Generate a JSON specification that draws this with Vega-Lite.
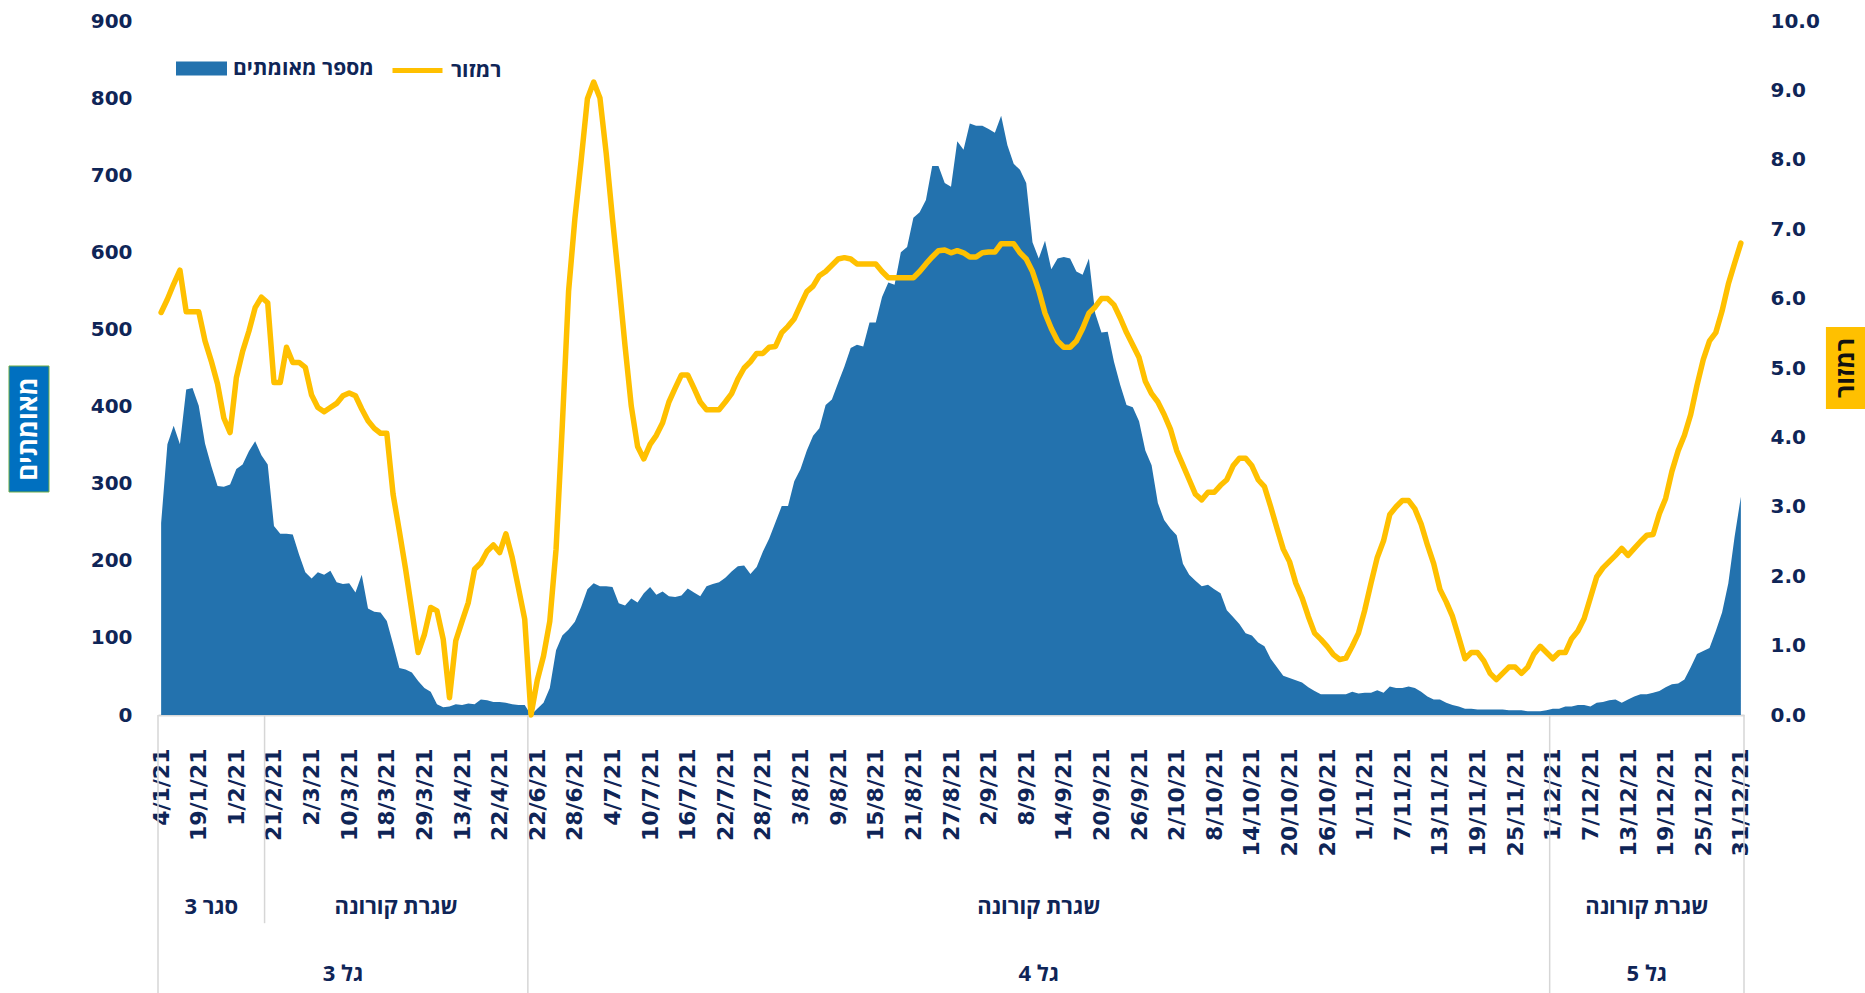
{
  "$schema": "https://vega.github.io/schema/vega-lite/v6.json",
  "width": 1586,
  "height": 694,
  "autosize": {"type": "none"},
  "padding": {"left": 158, "top": 21, "right": 121, "bottom": 278},
  "background": "white",
  "config": {"view": {"stroke": null}, "font": "Open Sans"},
  "datasets": {
    "series": [
      {"i":0,"c":249,"r":5.80},{"i":1,"c":351,"r":5.99},{"i":2,"c":375,"r":6.21},{"i":3,"c":351,"r":6.41},{"i":4,"c":422,"r":5.81},
      {"i":5,"c":424,"r":5.81},{"i":6,"c":401,"r":5.81},{"i":7,"c":352,"r":5.39},{"i":8,"c":323,"r":5.10},{"i":9,"c":297,"r":4.77},
      {"i":10,"c":296,"r":4.28},{"i":11,"c":299,"r":4.07},{"i":12,"c":319,"r":4.86},{"i":13,"c":325,"r":5.24},{"i":14,"c":342,"r":5.53},
      {"i":15,"c":355,"r":5.87},{"i":16,"c":337,"r":6.02},{"i":17,"c":325,"r":5.94},{"i":18,"c":245,"r":4.79},{"i":19,"c":235,"r":4.79},
      {"i":20,"c":235,"r":5.30},{"i":21,"c":234,"r":5.08},{"i":22,"c":208,"r":5.08},{"i":23,"c":185,"r":5.01},{"i":24,"c":177,"r":4.61},
      {"i":25,"c":185,"r":4.43},{"i":26,"c":182,"r":4.37},{"i":27,"c":187,"r":4.43},{"i":28,"c":172,"r":4.49},{"i":29,"c":170,"r":4.60},
      {"i":30,"c":171,"r":4.64},{"i":31,"c":159,"r":4.60},{"i":32,"c":182,"r":4.41},{"i":33,"c":138,"r":4.24},{"i":34,"c":134,"r":4.13},
      {"i":35,"c":133,"r":4.06},{"i":36,"c":122,"r":4.06},{"i":37,"c":92,"r":3.18},{"i":38,"c":61,"r":2.65},{"i":39,"c":59,"r":2.10},
      {"i":40,"c":55,"r":1.50},{"i":41,"c":44,"r":0.90},{"i":42,"c":35,"r":1.16},{"i":43,"c":30,"r":1.55},{"i":44,"c":14,"r":1.50},
      {"i":45,"c":10,"r":1.09},{"i":46,"c":11,"r":0.25},{"i":47,"c":14,"r":1.07},{"i":48,"c":13,"r":1.35},{"i":49,"c":15,"r":1.62},
      {"i":50,"c":14,"r":2.10},{"i":51,"c":20,"r":2.19},{"i":52,"c":19,"r":2.36},{"i":53,"c":17,"r":2.45},{"i":54,"c":17,"r":2.34},
      {"i":55,"c":16,"r":2.61},{"i":56,"c":14,"r":2.27},{"i":57,"c":13,"r":1.83},{"i":58,"c":13,"r":1.38},{"i":59,"c":0,"r":0.00},
      {"i":60,"c":8,"r":0.50},{"i":61,"c":16,"r":0.85},{"i":62,"c":35,"r":1.35},{"i":63,"c":84,"r":2.39},{"i":64,"c":103,"r":4.18},
      {"i":65,"c":111,"r":6.11},{"i":66,"c":121,"r":7.15},{"i":67,"c":140,"r":7.99},{"i":68,"c":163,"r":8.88},{"i":69,"c":171,"r":9.12},
      {"i":70,"c":167,"r":8.89},{"i":71,"c":167,"r":8.09},{"i":72,"c":166,"r":7.15},{"i":73,"c":145,"r":6.26},{"i":74,"c":142,"r":5.32},
      {"i":75,"c":151,"r":4.45},{"i":76,"c":146,"r":3.87},{"i":77,"c":158,"r":3.69},{"i":78,"c":166,"r":3.90},{"i":79,"c":156,"r":4.03},
      {"i":80,"c":160,"r":4.21},{"i":81,"c":154,"r":4.51},{"i":82,"c":153,"r":4.71},{"i":83,"c":155,"r":4.90},{"i":84,"c":164,"r":4.90},
      {"i":85,"c":159,"r":4.71},{"i":86,"c":154,"r":4.51},{"i":87,"c":167,"r":4.40},{"i":88,"c":170,"r":4.40},{"i":89,"c":172,"r":4.40},
      {"i":90,"c":178,"r":4.51},{"i":91,"c":186,"r":4.63},{"i":92,"c":193,"r":4.84},{"i":93,"c":194,"r":5.00},{"i":94,"c":183,"r":5.09},
      {"i":95,"c":192,"r":5.21},{"i":96,"c":212,"r":5.21},{"i":97,"c":229,"r":5.30},{"i":98,"c":250,"r":5.31},{"i":99,"c":271,"r":5.51},
      {"i":100,"c":271,"r":5.60},{"i":101,"c":303,"r":5.71},{"i":102,"c":319,"r":5.91},{"i":103,"c":343,"r":6.10},{"i":104,"c":362,"r":6.18},
      {"i":105,"c":372,"r":6.33},{"i":106,"c":402,"r":6.39},{"i":107,"c":409,"r":6.48},{"i":108,"c":431,"r":6.57},{"i":109,"c":452,"r":6.59},
      {"i":110,"c":476,"r":6.57},{"i":111,"c":480,"r":6.50},{"i":112,"c":478,"r":6.50},{"i":113,"c":509,"r":6.50},{"i":114,"c":509,"r":6.50},
      {"i":115,"c":542,"r":6.39},{"i":116,"c":561,"r":6.30},{"i":117,"c":558,"r":6.30},{"i":118,"c":600,"r":6.30},{"i":119,"c":607,"r":6.30},
      {"i":120,"c":645,"r":6.30},{"i":121,"c":652,"r":6.39},{"i":122,"c":668,"r":6.50},{"i":123,"c":712,"r":6.60},{"i":124,"c":712,"r":6.69},
      {"i":125,"c":690,"r":6.70},{"i":126,"c":685,"r":6.66},{"i":127,"c":744,"r":6.69},{"i":128,"c":733,"r":6.66},{"i":129,"c":767,"r":6.60},
      {"i":130,"c":764,"r":6.60},{"i":131,"c":764,"r":6.66},{"i":132,"c":760,"r":6.67},{"i":133,"c":755,"r":6.67},{"i":134,"c":777,"r":6.79},
      {"i":135,"c":739,"r":6.79},{"i":136,"c":715,"r":6.79},{"i":137,"c":707,"r":6.66},{"i":138,"c":690,"r":6.57},{"i":139,"c":613,"r":6.39},
      {"i":140,"c":592,"r":6.12},{"i":141,"c":615,"r":5.79},{"i":142,"c":578,"r":5.57},{"i":143,"c":592,"r":5.39},{"i":144,"c":594,"r":5.30},
      {"i":145,"c":592,"r":5.30},{"i":146,"c":575,"r":5.39},{"i":147,"c":571,"r":5.57},{"i":148,"c":592,"r":5.79},{"i":149,"c":521,"r":5.88},
      {"i":150,"c":496,"r":6.00},{"i":151,"c":497,"r":6.00},{"i":152,"c":458,"r":5.91},{"i":153,"c":428,"r":5.72},{"i":154,"c":402,"r":5.51},
      {"i":155,"c":399,"r":5.33},{"i":156,"c":381,"r":5.15},{"i":157,"c":343,"r":4.81},{"i":158,"c":324,"r":4.63},{"i":159,"c":275,"r":4.51},
      {"i":160,"c":253,"r":4.33},{"i":161,"c":242,"r":4.12},{"i":162,"c":233,"r":3.81},{"i":163,"c":196,"r":3.60},{"i":164,"c":182,"r":3.39},
      {"i":165,"c":174,"r":3.18},{"i":166,"c":167,"r":3.10},{"i":167,"c":169,"r":3.21},{"i":168,"c":163,"r":3.21},{"i":169,"c":158,"r":3.31},
      {"i":170,"c":136,"r":3.39},{"i":171,"c":127,"r":3.59},{"i":172,"c":118,"r":3.70},{"i":173,"c":106,"r":3.70},{"i":174,"c":103,"r":3.59},
      {"i":175,"c":94,"r":3.39},{"i":176,"c":89,"r":3.29},{"i":177,"c":73,"r":3.00},{"i":178,"c":62,"r":2.69},{"i":179,"c":51,"r":2.39},
      {"i":180,"c":48,"r":2.21},{"i":181,"c":45,"r":1.90},{"i":182,"c":42,"r":1.69},{"i":183,"c":36,"r":1.42},{"i":184,"c":31,"r":1.18},
      {"i":185,"c":27,"r":1.09},{"i":186,"c":27,"r":0.99},{"i":187,"c":27,"r":0.87},{"i":188,"c":27,"r":0.80},{"i":189,"c":27,"r":0.82},
      {"i":190,"c":30,"r":0.99},{"i":191,"c":28,"r":1.18},{"i":192,"c":29,"r":1.51},{"i":193,"c":29,"r":1.90},{"i":194,"c":32,"r":2.27},
      {"i":195,"c":29,"r":2.51},{"i":196,"c":37,"r":2.89},{"i":197,"c":35,"r":3.00},{"i":198,"c":35,"r":3.09},{"i":199,"c":37,"r":3.09},
      {"i":200,"c":35,"r":2.97},{"i":201,"c":30,"r":2.75},{"i":202,"c":24,"r":2.45},{"i":203,"c":20,"r":2.18},{"i":204,"c":20,"r":1.81},
      {"i":205,"c":16,"r":1.63},{"i":206,"c":13,"r":1.42},{"i":207,"c":11,"r":1.12},{"i":208,"c":8,"r":0.81},{"i":209,"c":8,"r":0.90},
      {"i":210,"c":7,"r":0.90},{"i":211,"c":7,"r":0.78},{"i":212,"c":7,"r":0.60},{"i":213,"c":7,"r":0.51},{"i":214,"c":7,"r":0.60},
      {"i":215,"c":6,"r":0.69},{"i":216,"c":6,"r":0.69},{"i":217,"c":6,"r":0.60},{"i":218,"c":5,"r":0.69},{"i":219,"c":5,"r":0.88},
      {"i":220,"c":5,"r":0.99},{"i":221,"c":6,"r":0.90},{"i":222,"c":8,"r":0.81},{"i":223,"c":8,"r":0.90},{"i":224,"c":11,"r":0.90},
      {"i":225,"c":11,"r":1.10},{"i":226,"c":13,"r":1.21},{"i":227,"c":13,"r":1.39},{"i":228,"c":11,"r":1.69},{"i":229,"c":16,"r":1.99},
      {"i":230,"c":17,"r":2.12},{"i":231,"c":19,"r":2.21},{"i":232,"c":20,"r":2.30},{"i":233,"c":16,"r":2.40},{"i":234,"c":20,"r":2.30},
      {"i":235,"c":24,"r":2.40},{"i":236,"c":27,"r":2.50},{"i":237,"c":27,"r":2.59},{"i":238,"c":29,"r":2.60},{"i":239,"c":31,"r":2.90},
      {"i":240,"c":36,"r":3.12},{"i":241,"c":40,"r":3.51},{"i":242,"c":41,"r":3.81},{"i":243,"c":46,"r":4.03},{"i":244,"c":62,"r":4.33},
      {"i":245,"c":79,"r":4.75},{"i":246,"c":83,"r":5.12},{"i":247,"c":87,"r":5.39},{"i":248,"c":109,"r":5.51},{"i":249,"c":133,"r":5.82},
      {"i":250,"c":171,"r":6.21},{"i":251,"c":231,"r":6.51},{"i":252,"c":283,"r":6.80}
    ],
    "phases": [
      {"name":"סגר 3","mid":8},
      {"name":"שגרת קורונה","mid":37.5},
      {"name":"שגרת קורונה","mid":140},
      {"name":"שגרת קורונה","mid":237}
    ],
    "waves": [
      {"name":"גל 3","mid":29},
      {"name":"גל 4","mid":140},
      {"name":"גל 5","mid":237}
    ],
    "seps": [
      {"x":-0.5,"kind":"wave"},
      {"x":16.5,"kind":"phase"},
      {"x":58.5,"kind":"wave"},
      {"x":221.5,"kind":"wave"},
      {"x":252.5,"kind":"wave"}
    ]
  },
  "layer": [
    {
      "data": {"name": "series"},
      "mark": {"type": "area", "opacity": 1, "interpolate": "linear"},
      "encoding": {
        "x": {
          "field": "i", "type": "quantitative",
          "scale": {"domain": [-0.5, 252.5], "nice": false, "zero": false},
          "axis": {
            "title": null,
            "values": [0,6,12,18,24,30,36,42,48,54,60,66,72,78,84,90,96,102,108,114,120,126,132,138,144,150,156,162,168,174,180,186,192,198,204,210,216,222,228,234,240,246,252],
            "labelExpr": "['4/1/21','19/1/21','1/2/21','21/2/21','2/3/21','10/3/21','18/3/21','29/3/21','13/4/21','22/4/21','22/6/21','28/6/21','4/7/21','10/7/21','16/7/21','22/7/21','28/7/21','3/8/21','9/8/21','15/8/21','21/8/21','27/8/21','2/9/21','8/9/21','14/9/21','20/9/21','26/9/21','2/10/21','8/10/21','14/10/21','20/10/21','26/10/21','1/11/21','7/11/21','13/11/21','19/11/21','25/11/21','1/12/21','7/12/21','13/12/21','19/12/21','25/12/21','31/12/21'][round(datum.value / 6)]",
            "labelAngle": -90,
            "labelFont": "DejaVu Sans",
            "labelFontWeight": "bold",
            "labelFontSize": 22,
            "labelColor": "#0F2557",
            "labelPadding": 33,
            "ticks": false,
            "tickSize": 0,
            "grid": false,
            "domainColor": "#D9D9D9",
            "domainWidth": 2,
            "labelOverlap": false,
            "labelBound": false,
            "labelFlush": false
          }
        },
        "y": {
          "field": "c", "type": "quantitative",
          "scale": {"domain": [0, 900], "nice": false},
          "axis": {
            "title": null,
            "values": [0,100,200,300,400,500,600,700,800,900],
            "labelFont": "DejaVu Sans",
            "labelFontWeight": "bold",
            "labelFontSize": 20,
            "labelColor": "#0F2557",
            "labelPadding": 26,
            "ticks": false,
            "tickSize": 0,
            "domain": false,
            "grid": false
          }
        },
        "color": {
          "datum": "מספר מאומתים", "type": "nominal",
          "scale": {"domain": ["מספר מאומתים"], "range": ["#2372AE"]},
          "legend": {
            "title": null,
            "orient": "none",
            "legendX": 18,
            "legendY": 22,
            "direction": "horizontal",
            "symbolType": "M-1,-0.27L1,-0.27L1,0.27L-1,0.27Z",
            "symbolSize": 2601,
            "symbolOpacity": 1,
            "symbolStrokeWidth": 0,
            "labelFont": "Open Sans",
            "labelFontSize": 21,
            "labelFontWeight": "bold",
            "labelColor": "#0F2557",
            "labelOffset": 6
          }
        }
      }
    },
    {
      "data": {"name": "series"},
      "mark": {"type": "line", "strokeWidth": 5.5, "strokeCap": "round", "strokeJoin": "round", "interpolate": "linear"},
      "encoding": {
        "x": {"field": "i", "type": "quantitative", "scale": {"domain": [-0.5, 252.5], "nice": false, "zero": false}, "axis": null},
        "y": {
          "field": "r", "type": "quantitative",
          "scale": {"domain": [0, 10], "nice": false},
          "axis": {
            "orient": "right",
            "title": null,
            "values": [0,1,2,3,4,5,6,7,8,9,10],
            "format": ".1f",
            "labelFont": "DejaVu Sans",
            "labelFontWeight": "bold",
            "labelFontSize": 20,
            "labelColor": "#0F2557",
            "labelPadding": 26,
            "ticks": false,
            "tickSize": 0,
            "domain": false,
            "grid": false
          }
        },
        "color": {
          "datum": "רמזור", "type": "nominal",
          "scale": {"domain": ["רמזור"], "range": ["#FFC000"]},
          "legend": {
            "title": null,
            "orient": "none",
            "legendX": 232,
            "legendY": 22,
            "direction": "horizontal",
            "symbolType": "stroke",
            "symbolSize": 2500,
            "symbolStrokeWidth": 5,
            "symbolOpacity": 1,
            "labelFont": "Open Sans",
            "labelFontSize": 21,
            "labelFontWeight": "bold",
            "labelColor": "#0F2557",
            "labelOffset": 6
          }
        }
      }
    },
    {
      "layer": [
        {
          "data": {"name": "seps"},
          "transform": [{"filter": "datum.kind === 'wave'"}],
          "mark": {"type": "rule", "color": "#D6D6D6", "strokeWidth": 1.5, "clip": false},
          "encoding": {
            "x": {"field": "x", "type": "quantitative", "scale": {"domain": [-0.5, 252.5], "nice": false, "zero": false}, "axis": null},
            "y": {"datum": 0, "type": "quantitative", "scale": {"domain": [0, 900], "nice": false}, "axis": null},
            "y2": {"datum": -372}
          }
        },
        {
          "data": {"name": "seps"},
          "transform": [{"filter": "datum.kind === 'phase'"}],
          "mark": {"type": "rule", "color": "#D6D6D6", "strokeWidth": 1.5, "clip": false},
          "encoding": {
            "x": {"field": "x", "type": "quantitative", "scale": {"domain": [-0.5, 252.5], "nice": false, "zero": false}, "axis": null},
            "y": {"datum": 0, "type": "quantitative", "scale": {"domain": [0, 900], "nice": false}, "axis": null},
            "y2": {"datum": -270}
          }
        },
        {
          "data": {"name": "phases"},
          "mark": {"type": "text", "font": "Open Sans", "fontWeight": "bold", "fontSize": 22, "color": "#0F2557", "align": "center", "baseline": "middle", "clip": false},
          "encoding": {
            "x": {"field": "mid", "type": "quantitative", "scale": {"domain": [-0.5, 252.5], "nice": false, "zero": false}, "axis": null},
            "y": {"datum": -249, "type": "quantitative", "scale": {"domain": [0, 900], "nice": false}, "axis": null},
            "text": {"field": "name"}
          }
        },
        {
          "data": {"name": "waves"},
          "mark": {"type": "text", "font": "Open Sans", "fontWeight": "bold", "fontSize": 22, "color": "#0F2557", "align": "center", "baseline": "middle", "clip": false},
          "encoding": {
            "x": {"field": "mid", "type": "quantitative", "scale": {"domain": [-0.5, 252.5], "nice": false, "zero": false}, "axis": null},
            "y": {"datum": -336, "type": "quantitative", "scale": {"domain": [0, 900], "nice": false}, "axis": null},
            "text": {"field": "name"}
          }
        },
        {
          "data": {"values": [{}]},
          "mark": {"type": "rect", "fill": "#0070C0", "stroke": "#70AD47", "strokeWidth": 1, "clip": false},
          "encoding": {
            "x": {"datum": -24.27, "type": "quantitative", "scale": {"domain": [-0.5, 252.5], "nice": false, "zero": false}, "axis": null},
            "x2": {"datum": -17.89},
            "y": {"datum": 452.6, "type": "quantitative", "scale": {"domain": [0, 900], "nice": false}, "axis": null},
            "y2": {"datum": 289.2}
          }
        },
        {
          "data": {"values": [{}]},
          "mark": {"type": "text", "text": "מאומתים", "font": "Open Sans", "fontWeight": "bold", "fontSize": 26, "color": "#FFFFFF", "angle": 270, "align": "center", "baseline": "middle", "clip": false},
          "encoding": {
            "x": {"datum": -21.08, "type": "quantitative", "scale": {"domain": [-0.5, 252.5], "nice": false, "zero": false}, "axis": null},
            "y": {"datum": 370.9, "type": "quantitative", "scale": {"domain": [0, 900], "nice": false}, "axis": null}
          }
        },
        {
          "data": {"values": [{}]},
          "mark": {"type": "rect", "fill": "#FFC000", "clip": false},
          "encoding": {
            "x": {"datum": 265.57, "type": "quantitative", "scale": {"domain": [-0.5, 252.5], "nice": false, "zero": false}, "axis": null},
            "x2": {"datum": 272.5},
            "y": {"datum": 503.2, "type": "quantitative", "scale": {"domain": [0, 900], "nice": false}, "axis": null},
            "y2": {"datum": 396.8}
          }
        },
        {
          "data": {"values": [{}]},
          "mark": {"type": "text", "text": "רמזור", "font": "Open Sans", "fontWeight": "bold", "fontSize": 25, "color": "#111111", "angle": 270, "align": "center", "baseline": "middle", "clip": false},
          "encoding": {
            "x": {"datum": 268.76, "type": "quantitative", "scale": {"domain": [-0.5, 252.5], "nice": false, "zero": false}, "axis": null},
            "y": {"datum": 450, "type": "quantitative", "scale": {"domain": [0, 900], "nice": false}, "axis": null}
          }
        }
      ]
    }
  ],
  "resolve": {"scale": {"x": "independent", "y": "independent", "color": "independent"}}
}
